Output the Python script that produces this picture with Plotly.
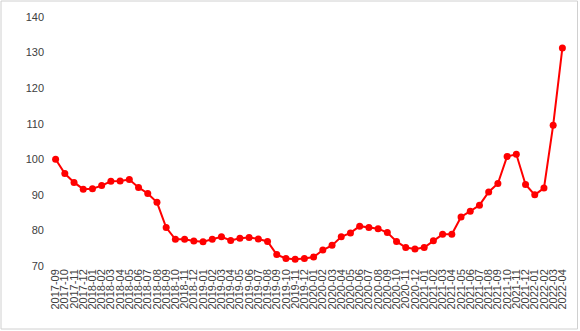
import plotly.graph_objects as go

months = ["2017-09","2017-10","2017-11","2017-12",
          "2018-01","2018-02","2018-03","2018-04","2018-05","2018-06","2018-07","2018-08","2018-09","2018-10","2018-11","2018-12",
          "2019-01","2019-02","2019-03","2019-04","2019-05","2019-06","2019-07","2019-08","2019-09","2019-10","2019-11","2019-12",
          "2020-01","2020-02","2020-03","2020-04","2020-05","2020-06","2020-07","2020-08","2020-09","2020-10","2020-11","2020-12",
          "2021-01","2021-02","2021-03","2021-04","2021-05","2021-06","2021-07","2021-08","2021-09","2021-10","2021-11","2021-12",
          "2022-01","2022-02","2022-03","2022-04"]

values = [100.0, 96.0, 93.5, 91.6,
          91.7, 92.6, 93.8, 93.9, 94.3, 92.1, 90.4, 87.9, 80.8, 77.5, 77.5, 77.0,
          76.8, 77.5, 78.2, 77.2, 77.8, 78.0, 77.6, 76.9, 73.2, 72.1, 71.9, 72.1,
          72.5, 74.5, 75.8, 78.2, 79.3, 81.2, 80.8, 80.5, 79.4, 76.9, 75.2, 74.8,
          75.2, 77.1, 78.9, 78.9, 83.8, 85.4, 87.1, 90.8, 93.2, 100.8, 101.4, 92.9,
          90.0, 91.9, 109.6, 131.3]

y_ticks = [70, 80, 90, 100, 110, 120, 130, 140]

fig = go.Figure()
fig.add_trace(go.Scatter(
    x=months, y=values, mode="lines+markers",
    line=dict(color="#FF0000", width=2),
    marker=dict(color="#FF0000", size=7),
    showlegend=False,
))

fig.update_layout(
    width=580, height=331,
    margin=dict(l=51, r=13, t=17, b=65),
    paper_bgcolor="white", plot_bgcolor="white",
    font=dict(family="Liberation Sans, Arial, sans-serif", color="#595959"),
    xaxis=dict(type="category", range=[-0.5, len(months) - 0.5],
               tickmode="array", tickvals=months, ticktext=months,
               tickangle=-90, tickfont=dict(size=11, color="#404040"),
               showgrid=False, zeroline=False, showline=False, ticks=""),
    yaxis=dict(range=[70, 140], tickvals=y_ticks, showgrid=False, zeroline=False,
               showline=False, ticks="", tickfont=dict(size=11, color="#404040"),
               ticklabelstandoff=6),
    shapes=[dict(type="rect", xref="paper", yref="paper",
                 x0=-50/516, x1=1 + 10.5/516, y0=-63/249, y1=1 + 16/249,
                 line=dict(color="#D0D0D0", width=1), fillcolor="rgba(0,0,0,0)")],
)

fig.write_html("out.html")
